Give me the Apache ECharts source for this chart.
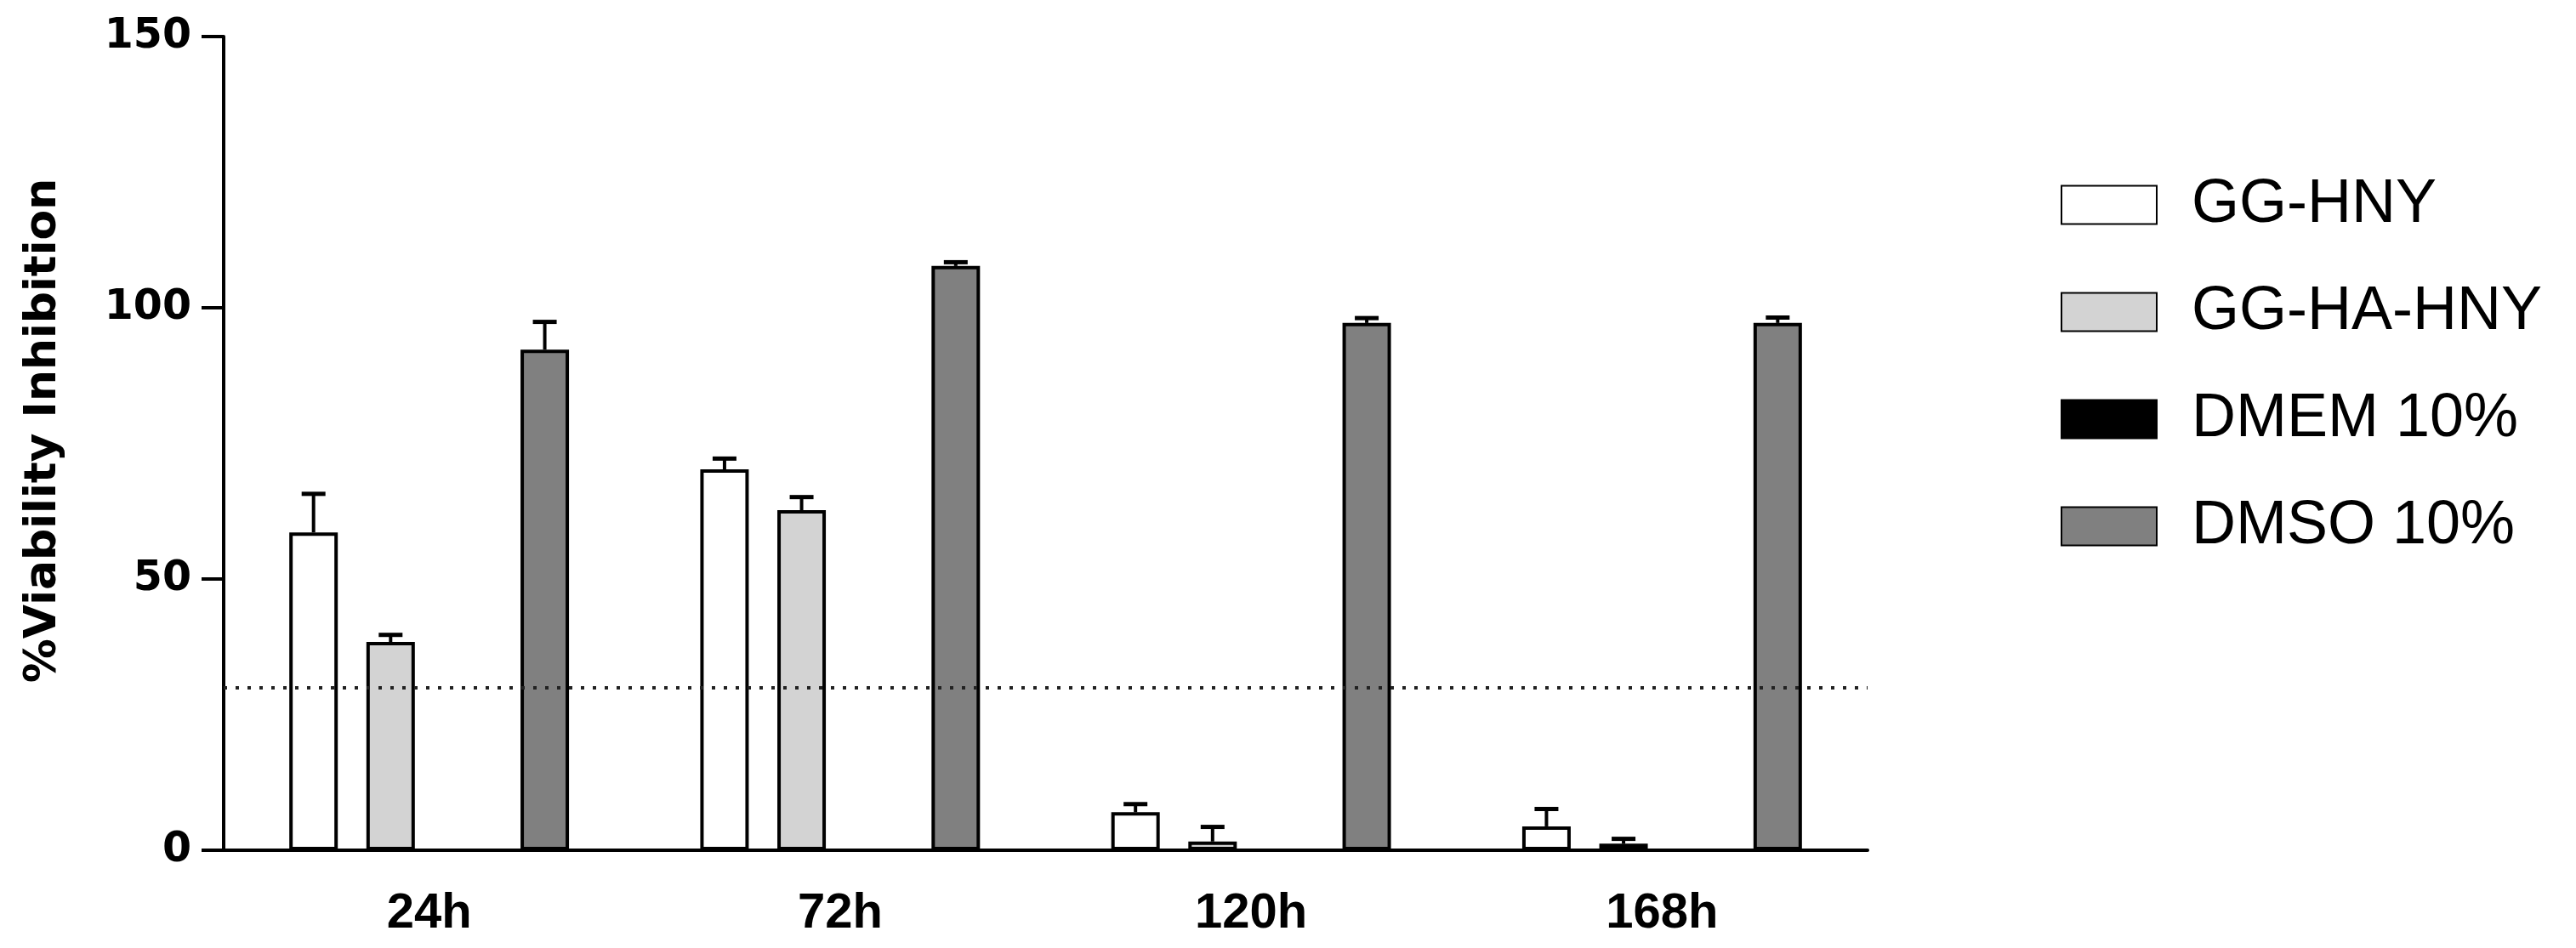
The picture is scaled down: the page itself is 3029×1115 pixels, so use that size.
<!DOCTYPE html>
<html>
<head>
<meta charset="utf-8">
<script src="https://cdn.jsdelivr.net/npm/echarts@6/dist/echarts.min.js"></script>
<style>
html,body{margin:0;padding:0;background:#fff;}
#chart{width:3029px;height:1115px;}
</style>
</head>
<body>
<div id="chart"></div>
<script>
// ---- data ----
const categories = ['24h', '72h', '120h', '168h'];
const seriesNames = ['GG-HNY', 'GG-HA-HNY', 'DMEM 10%', 'DMSO 10%'];
const ggHny = [58.6, 70.2, 7.0, 4.4];
const ggHnyErr = [7.1, 2.0, 1.5, 3.2];
const ggHaHny = [38.4, 62.7, 1.6, 1.2];
const ggHaHnyErr = [1.3, 2.4, 2.7, 0.9];
const dmem = [0, 0, 0, 0];
const dmemErr = [0, 0, 0, 0];
const dmso = [92.3, 107.7, 97.2, 97.2];
const dmsoErr = [5.1, 0.7, 0.9, 1.0];
const yMin = 0, yMax = 150, yInterval = 50;
const threshold = 30;

// ---- styling ----
const FONT = '"Liberation Sans", Arial, sans-serif';
const WIDE = '"DejaVu Sans", Verdana, sans-serif';
const colors = ['#ffffff', '#d3d3d3', '#000000', '#808080'];
const BAR_W = 57;
const BAR_GAP = '59%';
const SLOT = BAR_W * 1.59;
const values = [ggHny, ggHaHny, dmem, dmso];
const errors = [ggHnyErr, ggHaHnyErr, dmemErr, dmsoErr];

const series = [];
values.forEach((vals, si) => {
  const s = {
    name: seriesNames[si],
    type: 'bar',
    barWidth: BAR_W,
    barGap: BAR_GAP,
    itemStyle: { color: colors[si], borderColor: '#000', borderWidth: 4 },
    data: vals.map((v, i) => {
      // the small 168h GG-HA-HNY bar appears dark grey in the reference
      if (si === 1 && i === 3) return { value: v, itemStyle: { color: '#808080' } };
      return v;
    }),
    z: 2
  };
  if (si === 3) {
    s.markLine = {
      silent: true,
      symbol: 'none',
      z: 10,
      label: { show: false },
      lineStyle: { type: [4, 10], color: '#222', width: 4 },
      data: [{ yAxis: threshold }]
    };
  }
  series.push(s);
});

values.forEach((vals, si) => {
  if (si === 2) return;
  const offset = (si - 1.5) * SLOT;
  series.push({
    name: 'err' + si,
    type: 'custom',
    z: 3,
    silent: true,
    encode: { x: 0, y: [1, 2] },
    data: vals.map((v, i) => [i, v, errors[si][i]]),
    renderItem: function (params, api) {
      const ci = api.value(0), v = api.value(1), e = api.value(2);
      const b = api.coord([ci, v]);
      const t = api.coord([ci, v + e]);
      const x = b[0] + offset;
      const st = { stroke: '#000', lineWidth: 4 };
      return {
        type: 'group',
        children: [
          { type: 'line', shape: { x1: x, y1: b[1], x2: x, y2: t[1] }, style: st },
          { type: 'line', shape: { x1: x - 14, y1: t[1], x2: x + 14, y2: t[1] }, style: { stroke: '#000', lineWidth: 5 } }
        ]
      };
    }
  });
});

const chart = echarts.init(document.getElementById('chart'), null, { renderer: 'canvas' });
chart.setOption({
  animation: false,
  backgroundColor: '#fff',
  grid: { left: 263, right: 833, top: 43, bottom: 115, containLabel: false },
  legend: {
    data: seriesNames,
    orient: 'vertical',
    left: 2418,
    top: 200,
    itemWidth: 112,
    itemHeight: 45,
    itemGap: 54,
    icon: 'rect',
    selectedMode: false,
    textStyle: { fontSize: 72, fontFamily: FONT, color: '#000', padding: [0, 0, 0, 36] }
  },
  xAxis: {
    type: 'category',
    data: categories,
    axisLine: { lineStyle: { color: '#000', width: 4 } },
    axisTick: { show: false },
    axisLabel: { fontSize: 58, fontWeight: 'bold', fontFamily: FONT, color: '#000', margin: 46 }
  },
  yAxis: {
    type: 'value',
    min: yMin,
    max: yMax,
    interval: yInterval,
    name: '%Viability Inhibition',
    nameLocation: 'middle',
    nameGap: 186,
    nameTextStyle: { fontSize: 52, fontWeight: 'bold', fontFamily: WIDE, color: '#000', padding: [0, 0, 0, 30] },
    axisLine: { show: true, lineStyle: { color: '#000', width: 4 } },
    axisTick: { show: true, length: 26, lineStyle: { color: '#000', width: 4 } },
    axisLabel: { fontSize: 49, fontWeight: 'bold', fontFamily: WIDE, color: '#000', margin: 38 },
    splitLine: { show: false }
  },
  series: series
});
</script>
</body>
</html>
